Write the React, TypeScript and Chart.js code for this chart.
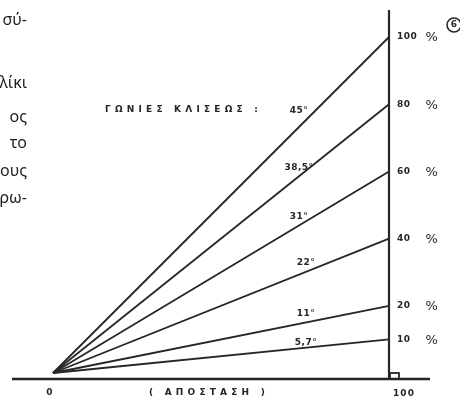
import React, { useEffect, useRef } from "react";
import { Chart, registerables } from "chart.js";

Chart.register(...registerables);

// ---- data ----
const slopePercents = [100, 80, 60, 40, 20, 10];
const angleLabels = ["45°", "38,5°", "31°", "22°", "11°", "5,7°"];
const distanceTicks = [0, 100];
const distanceTickLabels = ["0", "100"];
const axisTitle = "( ΑΠΟΣΤΑΣΗ )";
const anglesTitle = "ΓΩΝΙΕΣ ΚΛΙΣΕΩΣ :";
const sideText = ["σύ-", "λίκι", "ος", "το", "ους", "ρω-"];
const figureMark = "6";

const INK = "#262626";

const annotPlugin = {
  id: "annot",
  afterDatasetsDraw(chart: any) {
    const ctx = chart.ctx as CanvasRenderingContext2D;
    const xs = chart.scales.x;
    const ys = chart.scales.y;
    const X = (v: number) => xs.getPixelForValue(v);
    const Y = (v: number) => ys.getPixelForValue(v);
    const x0 = X(distanceTicks[0]);
    const x1 = X(distanceTicks[1]);
    const axisY = Y(0) + 6;
    ctx.save();
    ctx.strokeStyle = INK;
    ctx.lineCap = "butt";
    // horizontal axis
    ctx.lineWidth = 2.5;
    ctx.beginPath();
    ctx.moveTo(12, axisY);
    ctx.lineTo(430, axisY);
    ctx.stroke();
    // vertical line at distance 100
    ctx.lineWidth = 2.2;
    ctx.beginPath();
    ctx.moveTo(x1, axisY);
    ctx.lineTo(x1, 10);
    ctx.stroke();
    // right-angle mark
    ctx.lineWidth = 1.8;
    ctx.strokeRect(x1 + 1, axisY - 6, 9, 6);

    ctx.fillStyle = INK;
    const setFont = (size: number, spacing: number) => {
      ctx.font = `bold ${size}px "DejaVu Sans", sans-serif`;
      (ctx as any).letterSpacing = `${spacing}px`;
    };

    // percentage labels on the right
    ctx.textBaseline = "middle";
    slopePercents.forEach((v) => {
      setFont(9, 0.5);
      ctx.textAlign = "left";
      ctx.fillText(String(v), x1 + 8, Y(v));
      ctx.textAlign = "center";
      ctx.font = `13px "DejaVu Sans", sans-serif`;
      ctx.fillText("%", x1 + 43, Y(v) + 1);
    });

    // angle labels along the lines
    setFont(9, 0.5);
    ctx.textAlign = "center";
    ctx.textBaseline = "middle";
    angleLabels.forEach((lab, i) => {
      const px = 299 + (i >= 3 ? 7 : 0);
      const dx = xs.getValueForPixel(px);
      const ly = Y((slopePercents[i] * dx) / 100);
      const off = i === 0 ? 16 : i === 5 ? 5 : 9;
      ctx.fillText(lab, px, ly - off);
    });

    // angles title
    setFont(9, 4.2);
    ctx.textAlign = "left";
    ctx.fillText(anglesTitle, 105, 110);

    // bottom labels
    setFont(9, 1);
    ctx.textAlign = "center";
    ctx.fillText(distanceTickLabels[0], x0 - 3, axisY + 14);
    ctx.fillText(distanceTickLabels[1], x1 + 15, axisY + 15);
    setFont(9, 4.2);
    ctx.fillText(axisTitle, 209, axisY + 14);

    // figure mark top right
    ctx.lineWidth = 1.6;
    ctx.beginPath();
    ctx.arc(454, 25, 7, 0, Math.PI * 2);
    ctx.stroke();
    setFont(9, 0);
    ctx.fillText(figureMark, 454, 25);

    // clipped page text at left
    (ctx as any).letterSpacing = "0px";
    ctx.font = `16px "Noto Sans", sans-serif`;
    ctx.fillStyle = "#1e1e1e";
    ctx.textAlign = "right";
    ctx.textBaseline = "middle";
    const rows = [20, 83, 117, 143, 171, 198];
    sideText.forEach((t, i) => ctx.fillText(t, 27, rows[i]));
    ctx.restore();
  },
};

export default function App() {
  const ref = useRef<HTMLCanvasElement>(null);
  useEffect(() => {
    if (!ref.current) return;
    const datasets = slopePercents.map((v) => ({
      label: `${v} %`,
      data: [
        { x: distanceTicks[0], y: 0 },
        { x: distanceTicks[1], y: v },
      ],
      borderColor: INK,
      borderWidth: 1.8,
      pointRadius: 0,
      showLine: true,
      fill: false,
    }));
    const chart = new Chart(ref.current, {
      type: "scatter",
      data: { datasets },
      options: {
        animation: false,
        responsive: false,
        devicePixelRatio: 1,
        layout: { padding: 0 },
        plugins: { legend: { display: false }, tooltip: { enabled: false } },
        scales: {
          x: { type: "linear", min: -15.77, max: 121.13, display: false },
          y: { type: "linear", min: -7.44, max: 111.01, display: false },
        },
      },
      plugins: [annotPlugin],
    } as any);
    return () => chart.destroy();
  }, []);
  return (
    <div style={{ position: "fixed", left: 0, top: 0, width: 460, height: 398, background: "#fff" }}>
      <canvas ref={ref} width={460} height={398} />
    </div>
  );
}
